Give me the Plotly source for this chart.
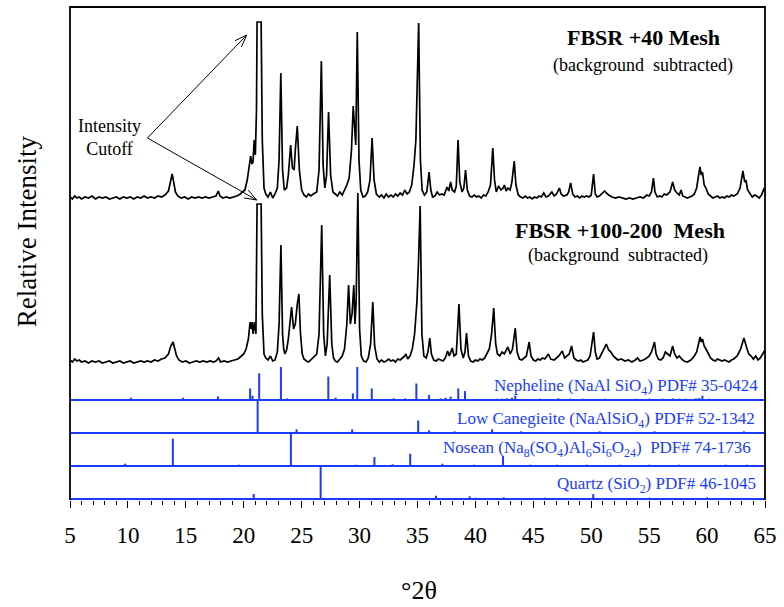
import math
import plotly.graph_objects as go

# ---------------- data ----------------
# XRD scan, FBSR +40 Mesh: (2theta, intensity above its own baseline, arbitrary units)
scan_40 = [
    (5.0, 3), (5.2, 1), (5.4, 4), (5.6, 2), (5.8, 3), (6.0, 1), (6.3, 3), (6.6, 2), (6.9, 4), (7.2, 1),
    (7.5, 3), (7.8, 2), (8.1, 3), (8.4, 1), (8.7, 2), (9.0, 3), (9.3, 1), (9.6, 3), (9.9, 2), (10.2, 3),
    (10.5, 1), (10.8, 3), (11.1, 2), (11.4, 4), (11.7, 2), (12.0, 3), (12.3, 2), (12.6, 4), (12.9, 3),
    (13.2, 5), (13.5, 9), (13.7, 20), (13.82, 26), (13.95, 18), (14.1, 8), (14.3, 4), (14.6, 2), (14.9, 3),
    (15.2, 1), (15.5, 3), (15.8, 2), (16.1, 3), (16.4, 2), (16.7, 3), (17.0, 2), (17.3, 3), (17.6, 4),
    (17.8, 9), (17.95, 4), (18.2, 2), (18.5, 3), (18.8, 2), (19.1, 3), (19.4, 4), (19.7, 6), (19.9, 8),
    (20.1, 10), (20.3, 20), (20.5, 40), (20.6, 44), (20.7, 36), (20.8, 38), (20.9, 60), (21.0, 45),
    (21.1, 90), (21.15, 178), (21.5, 178), (21.6, 60), (21.75, 12), (21.9, 6), (22.1, 3), (22.3, 8),
    (22.5, 2), (22.7, 6), (22.9, 12), (23.05, 40), (23.2, 127), (23.35, 30), (23.5, 10), (23.7, 12),
    (23.85, 25), (24.05, 55), (24.2, 32), (24.35, 30), (24.45, 50), (24.62, 74), (24.8, 30), (25.0, 10),
    (25.2, 5), (25.4, 3), (25.6, 6), (25.8, 4), (26.0, 6), (26.3, 8), (26.5, 30), (26.7, 139), (26.85, 35),
    (27.0, 12), (27.15, 25), (27.32, 88), (27.5, 25), (27.7, 8), (27.9, 6), (28.1, 4), (28.3, 8), (28.5, 5),
    (28.7, 10), (28.9, 15), (29.1, 22), (29.3, 50), (29.45, 94), (29.6, 58), (29.67, 55), (29.8, 168),
    (29.95, 40), (30.1, 10), (30.3, 3), (30.5, 4), (30.7, 8), (30.9, 20), (31.08, 62), (31.25, 20),
    (31.45, 6), (31.7, 3), (31.9, 5), (32.1, 2), (32.3, 6), (32.5, 3), (32.7, 5), (32.9, 3), (33.1, 6),
    (33.3, 4), (33.5, 7), (33.7, 5), (33.9, 10), (34.1, 6), (34.3, 8), (34.5, 15), (34.7, 35), (34.86, 60),
    (34.95, 100), (35.1, 177), (35.25, 40), (35.4, 10), (35.6, 5), (35.8, 8), (36.0, 28), (36.15, 10),
    (36.3, 3), (36.5, 4), (36.7, 8), (36.9, 5), (37.1, 6), (37.3, 5), (37.55, 13), (37.7, 9), (37.86, 18),
    (38.0, 10), (38.2, 8), (38.35, 14), (38.5, 60), (38.65, 18), (38.85, 8), (39.0, 12), (39.15, 30),
    (39.3, 10), (39.5, 4), (39.7, 3), (39.9, 5), (40.1, 3), (40.3, 4), (40.5, 2), (40.7, 5), (40.9, 4),
    (41.1, 8), (41.3, 15), (41.5, 52), (41.65, 20), (41.8, 8), (42.0, 14), (42.2, 10), (42.4, 12),
    (42.5, 15), (42.65, 9), (42.8, 12), (43.0, 10), (43.15, 18), (43.35, 39), (43.5, 15), (43.7, 5),
    (43.9, 3), (44.1, 2), (44.3, 4), (44.5, 2), (44.7, 3), (44.9, 1), (45.1, 3), (45.3, 2), (45.5, 4),
    (45.7, 3), (45.9, 7), (46.1, 3), (46.3, 4), (46.6, 8), (46.8, 4), (47.0, 6), (47.25, 12), (47.4, 6),
    (47.6, 4), (47.9, 5), (48.05, 8), (48.22, 17), (48.4, 6), (48.6, 3), (48.8, 4), (49.0, 2), (49.2, 4),
    (49.4, 3), (49.6, 4), (49.8, 3), (50.0, 5), (50.2, 26), (50.35, 6), (50.5, 3), (50.7, 4), (50.9, 6),
    (51.16, 9), (51.3, 7), (51.5, 5), (51.8, 3), (52.1, 2), (52.4, 3), (52.7, 2), (53.0, 1), (53.3, 2),
    (53.6, 1), (53.9, 2), (54.2, 3), (54.5, 2), (54.8, 5), (55.0, 4), (55.2, 8), (55.37, 22), (55.5, 8),
    (55.7, 3), (55.9, 4), (56.1, 3), (56.3, 6), (56.5, 5), (56.8, 8), (57.03, 18), (57.2, 10), (57.4, 7),
    (57.6, 5), (57.75, 10), (57.9, 4), (58.1, 3), (58.3, 2), (58.5, 3), (58.7, 4), (58.9, 6), (59.1, 12),
    (59.38, 33), (59.5, 25), (59.6, 28), (59.75, 15), (59.9, 12), (60.1, 6), (60.3, 4), (60.5, 2),
    (60.7, 3), (60.9, 4), (61.1, 2), (61.3, 3), (61.5, 2), (61.7, 4), (61.9, 3), (62.1, 5), (62.3, 4),
    (62.6, 6), (62.85, 12), (63.09, 29), (63.25, 18), (63.35, 20), (63.5, 10), (63.7, 6), (63.9, 3),
    (64.1, 5), (64.3, 4), (64.5, 2), (64.7, 5), (64.9, 11), (65.0, 10),
]

# XRD scan, FBSR +100-200 Mesh
scan_100_200 = [
    (5.0, 4), (5.2, 2), (5.4, 5), (5.6, 3), (5.8, 4), (6.0, 2), (6.3, 3), (6.6, 1), (6.9, 3), (7.2, 2),
    (7.5, 3), (7.8, 1), (8.1, 2), (8.4, 3), (8.7, 1), (9.0, 2), (9.3, 3), (9.6, 1), (9.9, 2), (10.2, 3),
    (10.5, 1), (10.8, 2), (11.1, 3), (11.4, 2), (11.7, 3), (12.0, 2), (12.3, 4), (12.6, 3), (12.9, 5),
    (13.2, 6), (13.5, 10), (13.7, 18), (13.9, 22), (14.05, 15), (14.2, 8), (14.4, 4), (14.7, 2), (15.0, 3),
    (15.3, 1), (15.6, 2), (15.9, 3), (16.2, 2), (16.5, 3), (16.8, 2), (17.1, 3), (17.4, 2), (17.6, 3),
    (17.83, 6), (18.0, 2), (18.3, 3), (18.6, 2), (18.9, 3), (19.2, 4), (19.5, 5), (19.8, 8), (20.0, 10),
    (20.2, 15), (20.4, 25), (20.55, 42), (20.64, 35), (20.72, 42), (20.8, 30), (20.92, 42), (21.05, 30),
    (21.15, 160), (21.5, 160), (21.6, 50), (21.75, 10), (21.9, 6), (22.1, 4), (22.3, 8), (22.5, 3),
    (22.7, 4), (22.9, 12), (23.05, 40), (23.21, 119), (23.35, 30), (23.45, 15), (23.55, 10), (23.7, 14),
    (23.85, 25), (24.0, 45), (24.13, 57), (24.3, 35), (24.45, 40), (24.62, 60), (24.76, 70), (24.9, 30),
    (25.05, 10), (25.2, 5), (25.4, 3), (25.6, 2), (25.8, 4), (26.0, 6), (26.3, 10), (26.5, 30), (26.73, 139),
    (26.9, 30), (27.05, 8), (27.2, 20), (27.42, 89), (27.6, 20), (27.75, 6), (27.9, 3), (28.1, 2), (28.3, 5),
    (28.5, 8), (28.7, 15), (28.9, 40), (29.05, 79), (29.2, 40), (29.35, 50), (29.5, 79), (29.6, 40),
    (29.7, 60), (29.85, 171), (30.0, 35), (30.15, 8), (30.35, 3), (30.55, 2), (30.75, 6), (30.95, 20),
    (31.14, 62), (31.3, 18), (31.5, 5), (31.7, 2), (31.9, 4), (32.1, 2), (32.3, 3), (32.5, 5), (32.7, 3),
    (32.9, 4), (33.1, 2), (33.3, 5), (33.5, 4), (33.7, 6), (33.9, 8), (34.0, 10), (34.15, 5), (34.35, 8),
    (34.55, 15), (34.75, 30), (34.95, 62), (35.08, 100), (35.23, 158), (35.38, 30), (35.55, 8), (35.75, 6),
    (35.9, 12), (36.06, 26), (36.2, 10), (36.4, 4), (36.6, 3), (36.8, 5), (37.0, 4), (37.2, 3), (37.4, 6),
    (37.6, 13), (37.75, 8), (38.0, 16), (38.15, 8), (38.35, 10), (38.58, 60), (38.75, 15), (38.95, 6),
    (39.1, 12), (39.23, 31), (39.4, 8), (39.6, 3), (39.8, 2), (40.0, 4), (40.2, 3), (40.4, 5), (40.6, 4),
    (40.8, 6), (41.0, 10), (41.2, 15), (41.4, 30), (41.58, 56), (41.75, 20), (41.9, 10), (42.1, 8),
    (42.3, 12), (42.5, 10), (42.8, 17), (43.0, 10), (43.2, 15), (43.44, 36), (43.6, 12), (43.8, 5),
    (44.0, 4), (44.2, 6), (44.4, 8), (44.64, 22), (44.8, 8), (45.0, 4), (45.2, 3), (45.4, 5), (45.6, 4),
    (45.8, 6), (46.0, 5), (46.3, 10), (46.5, 5), (46.8, 4), (47.0, 6), (47.2, 8), (47.5, 13), (47.7, 6),
    (47.9, 8), (48.1, 10), (48.3, 18), (48.5, 6), (48.7, 4), (48.9, 3), (49.1, 4), (49.3, 2), (49.5, 3),
    (49.7, 4), (49.9, 8), (50.2, 32), (50.35, 12), (50.5, 5), (50.7, 6), (50.9, 10), (51.1, 15), (51.3, 20),
    (51.5, 14), (51.7, 12), (51.9, 8), (52.1, 6), (52.3, 4), (52.6, 5), (52.9, 3), (53.2, 4), (53.5, 2),
    (53.8, 4), (54.0, 6), (54.2, 3), (54.5, 4), (54.8, 6), (55.0, 8), (55.2, 12), (55.46, 22), (55.6, 10),
    (55.8, 5), (56.0, 4), (56.2, 6), (56.4, 12), (56.6, 10), (56.8, 8), (57.03, 18), (57.2, 10), (57.4, 6),
    (57.6, 8), (57.8, 5), (58.0, 3), (58.3, 2), (58.6, 4), (58.9, 8), (59.1, 12), (59.4, 27), (59.5, 22),
    (59.6, 25), (59.75, 18), (59.9, 15), (60.1, 10), (60.3, 6), (60.5, 4), (60.7, 3), (60.9, 5), (61.1, 4),
    (61.3, 3), (61.5, 4), (61.7, 3), (61.9, 2), (62.1, 4), (62.3, 5), (62.6, 8), (62.9, 15), (63.18, 26),
    (63.3, 20), (63.45, 15), (63.6, 10), (63.8, 8), (64.0, 5), (64.2, 8), (64.4, 4), (64.6, 6), (64.8, 10),
    (65.0, 14),
]

# Reference stick patterns: positions (2theta) and relative intensities (%)
nepheline_pos = [10.25, 14.74, 17.77, 20.55, 20.75, 21.33, 23.21, 23.75, 27.3, 27.93, 29.42, 29.8, 31.05,
                 32.94, 33.94, 34.9, 36.0, 37.0, 37.43, 37.86, 38.52, 39.1, 41.87, 42.3, 42.73, 43.15, 43.44,
                 45.58, 47.16, 48.16, 49.3, 51.17, 53.31, 53.88, 55.03, 56.17, 57.03, 57.6, 58.18, 59.03,
                 59.32, 59.6, 60.18, 61.9, 63.6, 64.47]
nepheline_int = [7, 7, 11, 35, 13, 81, 100, 5, 71, 7, 20, 100, 35,
                 5, 5, 50, 15, 5, 7, 10, 35, 27, 4, 4, 5, 7, 13,
                 4, 5, 4, 4, 4, 3, 4, 4, 4, 5, 4, 4, 5,
                 6, 13, 4, 3, 3, 3]

canegieite_pos = [21.2, 24.56, 29.36, 35.06, 36.0, 38.2, 41.44, 43.95, 50.73, 55.46, 63.18]
canegieite_int = [100, 11, 11, 38, 8, 5, 11, 5, 5, 5, 5]

nosean_pos = [9.76, 13.88, 16.97, 19.6, 21.98, 24.07, 29.65, 31.28, 32.85, 34.37, 37.15, 39.87, 42.38,
              44.73, 47.02, 49.6, 52.45, 55.03, 57.6, 61.6, 63.47]
nosean_int = [7, 83, 2, 4, 1, 100, 4, 27, 5, 37, 7, 4, 30,
              4, 4, 4, 4, 4, 4, 4, 4]

quartz_pos = [20.86, 26.64, 36.6, 39.5, 40.0, 42.44, 46.0, 50.17, 55.03, 57.3, 60.0, 62.0, 64.04]
quartz_int = [15, 100, 10, 8, 4, 5, 4, 15, 4, 3, 5, 3, 3]

phase_labels = [
    "Nepheline (NaAl SiO<sub>4</sub>) PDF# 35-0424",
    "Low Canegieite (NaAlSiO<sub>4</sub>) PDF# 52-1342",
    "Nosean (Na<sub>8</sub>(SO<sub>4</sub>)Al<sub>6</sub>Si<sub>6</sub>O<sub>24</sub>)\u00a0 PDF# 74-1736",
    "Quartz (SiO<sub>2</sub>) PDF# 46-1045",
]
x_ticks = [5, 10, 15, 20, 25, 30, 35, 40, 45, 50, 55, 60, 65]

# ---------------- styling / layout constants ----------------
FONT = "Liberation Serif, Times New Roman, serif"
BLUE = "#1a3cff"
W, H = 784, 607
ML, MR, MT, MB = 70, 14, 7, 107
PW, PH = W - ML - MR, H - MT - MB      # 700 x 493
Y0, Y1 = -1, PH - 1                    # 1 y-unit == 1 px
X0, X1 = 5, 65

OFF_40 = 299          # baseline of the +40 Mesh scan
OFF_100 = 135         # baseline of the +100-200 Mesh scan
PANEL_H = 33          # height of a stick panel (100 %)
panel_base = [99, 66, 33, 0]   # Nepheline, Canegieite, Nosean, Quartz


def px2x(px):
    return X0 + (px - ML) / PW * (X1 - X0)


def px2y(py):
    return Y0 + (MT + PH - py) / PH * (Y1 - Y0)


fig = go.Figure()

# scans
for scan, off in ((scan_40, OFF_40), (scan_100_200, OFF_100)):
    fig.add_trace(go.Scatter(
        x=[p[0] for p in scan], y=[p[1] + off for p in scan], mode="lines",
        line=dict(color="black", width=1.7), hoverinfo="skip", showlegend=False))

# stick patterns
sticks = [(nepheline_pos, nepheline_int), (canegieite_pos, canegieite_int),
          (nosean_pos, nosean_int), (quartz_pos, quartz_int)]
for (pos, inten), base in zip(sticks, panel_base):
    fig.add_trace(go.Scatter(x=[X0, X1], y=[base, base], mode="lines",
                             line=dict(color=BLUE, width=2), hoverinfo="skip", showlegend=False))
    xs, ys = [], []
    for p, i in zip(pos, inten):
        xs += [p, p, None]
        ys += [base, base + i / 100 * PANEL_H, None]
    fig.add_trace(go.Scatter(x=xs, y=ys, mode="lines",
                             line=dict(color=BLUE, width=2), hoverinfo="skip", showlegend=False))

annotations = []
# phase labels
label_pos = [(765, 387), (762, 420), (758, 449), (763, 485)]
for txt, (px, py) in zip(phase_labels, label_pos):
    annotations.append(dict(x=px2x(px), y=px2y(py), xref="x", yref="y", text=txt, showarrow=False,
                            xanchor="right", yanchor="middle", font=dict(family=FONT, size=17, color=BLUE)))

# sample labels
annotations += [
    dict(x=px2x(648), y=px2y(37), text="<b>FBSR +40 Mesh</b>"),
    dict(x=px2x(647), y=px2y(65), text="(background\u00a0 subtracted)"),
    dict(x=px2x(624), y=px2y(230), text="<b>FBSR +100-200\u00a0 Mesh</b>"),
    dict(x=px2x(622), y=px2y(255), text="(background\u00a0 subtracted)"),
]
for a in annotations[-4:]:
    a.update(xref="x", yref="y", showarrow=False, xanchor="center", yanchor="middle")
    a["font"] = dict(family=FONT, size=22 if "<b>" in a["text"] else 18, color="black")

annotations.append(dict(x=px2x(110), y=px2y(137), xref="x", yref="y", text="Intensity<br>Cutoff",
                        showarrow=False, xanchor="center", yanchor="middle", align="center",
                        font=dict(family=FONT, size=18, color="black")))

# axis titles
annotations.append(dict(x=(27 - ML) / PW, y=(MT + PH - 231) / PH, xref="paper", yref="paper",
                        text="Relative Intensity", textangle=-90, showarrow=False,
                        xanchor="center", yanchor="middle", font=dict(family=FONT, size=27, color="black")))
annotations.append(dict(x=(422 - ML) / PW, y=(MT + PH - 590) / PH, xref="paper", yref="paper",
                        text="°2θ", showarrow=False, xanchor="center", yanchor="middle",
                        font=dict(family=FONT, size=26, color="black")))

# arrows (open heads)
shapes = []


def seg(a, b):
    return dict(type="line", xref="x", yref="y", x0=px2x(a[0]), y0=px2y(a[1]),
                x1=px2x(b[0]), y1=px2y(b[1]), line=dict(color="black", width=1))


for tail, head in (((148, 138), (248, 35)), ((148, 138), (258, 200))):
    shapes.append(seg(tail, head))
    dx, dy = head[0] - tail[0], head[1] - tail[1]
    n = math.hypot(dx, dy)
    ux, uy = dx / n, dy / n
    for s in (1, -1):
        a = math.radians(20 * s)
        rx = ux * math.cos(a) - uy * math.sin(a)
        ry = ux * math.sin(a) + uy * math.cos(a)
        shapes.append(seg((head[0] - 13 * rx, head[1] - 13 * ry), head))

# frame (left, top, right)
shapes.append(dict(type="path", xref="paper", yref="paper", path="M 0,0 L 0,1 L 1,1 L 1,0",
                   line=dict(color="black", width=1.8)))

fig.update_layout(
    width=W, height=H, margin=dict(l=ML, r=MR, t=MT, b=MB),
    paper_bgcolor="white", plot_bgcolor="white",
    showlegend=False, annotations=annotations, shapes=shapes,
    xaxis=dict(range=[X0, X1], tickmode="array", tickvals=x_ticks, ticktext=[str(t) for t in x_ticks],
               ticks="outside", ticklen=7, tickwidth=1.2, tickcolor="black",
               tickfont=dict(family=FONT, size=23, color="black"), ticklabelstandoff=7,
               showgrid=False, zeroline=False, showline=False,
               minor=dict(dtick=1, tick0=5, ticks="outside", ticklen=4, tickwidth=1, tickcolor="black",
                          showgrid=False)),
    yaxis=dict(range=[Y0, Y1], showticklabels=False, ticks="", showgrid=False,
               zeroline=False, showline=False),
)

fig.write_html("out.html")
